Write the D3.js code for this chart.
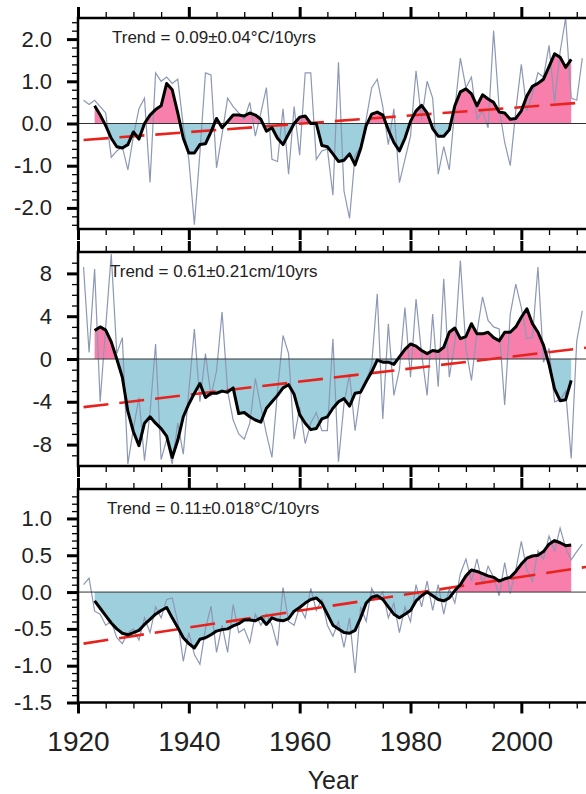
<!DOCTYPE html>
<html><head><meta charset="utf-8">
<script src="https://cdn.jsdelivr.net/npm/d3@7"></script>
<style>html,body{margin:0;padding:0;background:#fff;overflow:hidden}</style>
</head><body><svg id="c" width="586" height="794"></svg>
<script>
// ---------------- DATA ----------------
const annualStart = 1921;   // first year of the thin annual series
const smoothStart = 1923;   // first year of the smoothed series

// Panel 1: temperature anomaly (°C)
const tempAnnual = [
 0.55,0.45,0.55,0.40,0.25,-0.80,-0.65,-0.55,-1.10,-0.30,
 0.35,0.60,-1.40,1.20,1.00,1.10,0.95,1.05,-0.05,-0.85,
 -2.40,-0.70,1.20,1.15,-1.05,-0.25,0.60,0.40,0.25,0.10,
 0.50,-0.30,0.25,0.85,-0.85,-0.90,0.35,-1.20,0.40,-0.75,
 1.20,1.20,-0.85,-0.65,-0.60,-1.70,1.45,-1.60,-2.25,-0.75,
 -0.55,0.10,0.85,1.05,0.40,-0.50,0.35,-1.40,-0.85,-0.30,
 1.25,0.10,1.00,0.60,-1.20,-0.55,-1.10,0.35,1.55,0.85,
 1.10,0.10,0.30,-0.10,2.20,0.35,-0.45,-1.00,0.30,1.40,
 0.30,0.70,1.20,1.10,1.85,0.50,1.70,2.50,0.60,0.55,
 1.55];
const tempSmooth = [
 0.42,0.20,-0.05,-0.35,-0.55,-0.58,-0.50,-0.20,
 -0.37,0.00,0.20,0.33,0.42,0.95,0.80,0.25,-0.35,-0.70,
 -0.70,-0.50,-0.48,-0.20,0.12,-0.10,0.05,0.20,0.20,0.18,
 0.25,0.20,0.10,-0.18,-0.10,-0.35,-0.50,-0.25,0.00,0.15,
 0.18,0.00,0.00,-0.52,-0.55,-0.72,-0.90,-0.87,-0.72,-0.98,
 -0.60,-0.05,0.22,0.27,0.20,-0.15,-0.45,-0.65,-0.35,0.05,
 0.30,0.43,0.25,-0.12,-0.30,-0.30,-0.15,0.42,0.75,0.82,
 0.70,0.42,0.68,0.58,0.50,0.27,0.25,0.10,0.12,0.30,
 0.65,0.88,0.95,1.05,1.35,1.65,1.57,1.33,1.52];
const tempTrend = [[1921, -0.39], [2012.5, 0.51]];

// Panel 2: sea level anomaly (cm)
const seaAnnual = [
 8.6,0.6,8.4,-4.0,3.0,9.8,0.5,2.0,-9.8,-6.5,
 -3.6,-9.5,-5.0,1.4,-9.4,-7.5,-9.8,-6.0,-8.9,-3.0,
 2.8,-4.0,0.5,-3.5,-1.1,4.4,-3.0,-5.7,-7.0,-7.5,
 -6.0,-1.8,-4.5,-7.0,-9.2,-3.0,2.2,0.5,-7.5,-4.5,
 -7.9,-6.0,-5.0,-6.7,-6.7,1.9,-9.6,-4.2,-1.4,-6.7,
 -3.0,-2.0,-0.5,6.1,-5.6,3.3,-3.4,-1.0,4.8,-1.7,
 5.6,0.5,-3.4,4.2,-2.6,7.5,-1.7,1.5,9.2,1.0,
 -2.0,2.5,5.8,3.6,3.0,2.8,-4.3,4.2,7.0,4.8,
 1.9,2.0,8.6,-0.3,1.0,-4.0,-3.8,-3.0,-9.3,1.7,
 4.5];
const seaSmooth = [
 2.66,3.0,2.7,1.6,0.0,-1.7,-4.9,-6.8,
 -8.1,-6.0,-5.4,-6.0,-6.5,-7.2,-9.2,-7.6,-5.4,-4.2,
 -3.2,-2.3,-3.6,-3.2,-3.2,-3.0,-3.1,-2.7,-5.1,-5.0,
 -5.4,-5.7,-5.9,-4.6,-4.0,-3.4,-2.7,-2.4,-3.3,-5.2,
 -6.0,-6.6,-6.5,-5.6,-5.4,-4.6,-4.0,-3.7,-4.4,-3.2,
 -3.1,-2.1,-1.2,-0.1,-0.3,-0.3,-0.5,0.2,0.9,1.4,
 1.2,0.8,0.5,0.8,0.7,1.1,2.5,2.9,1.9,2.1,
 3.3,2.35,2.35,2.5,2.0,1.7,2.5,2.5,3.0,3.9,
 4.7,3.3,2.5,1.3,-0.5,-2.8,-3.9,-3.8,-2.0];
const seaTrend = [[1921, -4.5], [2012.5, 1.1]];

// Panel 3: SST anomaly (°C)
const sstAnnual = [
 0.10,0.19,-0.26,-0.30,-0.45,-0.40,-0.62,-0.70,-0.55,-0.50,
 -0.65,-0.35,-0.55,-0.20,-0.35,-0.10,-0.08,-0.40,-0.94,-0.55,
 -0.85,-0.98,-0.50,-0.19,-0.82,-0.45,-0.82,-0.17,-0.55,-0.50,
 -0.69,-0.30,-0.45,-0.30,-0.45,-0.73,0.06,-0.40,-0.45,-0.20,
 -0.35,0.05,-0.25,-0.10,-0.45,-0.60,-0.40,-0.75,-0.35,-1.10,
 -0.20,-0.40,0.05,-0.10,0.00,-0.35,-0.15,-0.55,-0.20,-0.40,
 0.10,-0.20,0.15,-0.25,0.10,-0.30,0.05,-0.15,0.25,0.45,
 0.15,0.45,0.10,0.35,0.20,-0.05,0.40,-0.02,0.30,0.69,
 0.30,0.15,0.56,0.45,0.76,0.56,0.87,0.60,0.44,0.55,
 0.65];
const sstSmooth = [
 -0.12,-0.22,-0.32,-0.42,-0.50,-0.56,-0.58,-0.55,
 -0.52,-0.44,-0.37,-0.30,-0.25,-0.21,-0.35,-0.48,-0.62,-0.70,
 -0.76,-0.64,-0.62,-0.58,-0.53,-0.51,-0.50,-0.46,-0.43,-0.38,
 -0.38,-0.39,-0.35,-0.44,-0.35,-0.38,-0.39,-0.36,-0.26,-0.21,
 -0.15,-0.10,-0.08,-0.15,-0.30,-0.45,-0.50,-0.55,-0.56,-0.52,
 -0.35,-0.15,-0.07,-0.05,-0.10,-0.20,-0.30,-0.35,-0.30,-0.25,
 -0.12,-0.05,0.00,-0.05,-0.10,-0.12,-0.08,0.02,0.10,0.22,
 0.30,0.28,0.25,0.22,0.20,0.15,0.18,0.20,0.28,0.38,
 0.46,0.49,0.50,0.55,0.65,0.70,0.67,0.63,0.64];
const sstTrend = [[1921, -0.70], [2012.5, 0.35]];

// Tick values / labels
const xMajorTicks = [1920, 1940, 1960, 1980, 2000];
const xMinorTicks = [1925,1930,1935,1945,1950,1955,1965,1970,1975,1985,1990,1995,2005,2010];
const y1Major = [-2, -1, 0, 1, 2];
const y1Minor = [-2.4,-2.2,-1.8,-1.6,-1.4,-1.2,-0.8,-0.6,-0.4,-0.2,0.2,0.4,0.6,0.8,1.2,1.4,1.6,1.8,2.2,2.4];
const y2Major = [-8, -4, 0, 4, 8];
const y2Minor = [-9,-7,-6,-5,-3,-2,-1,1,2,3,5,6,7,9];
const y3Major = [-1.5, -1.0, -0.5, 0, 0.5, 1.0];
const y3Minor = [-1.4,-1.3,-1.2,-1.1,-0.9,-0.8,-0.7,-0.6,-0.4,-0.3,-0.2,-0.1,0.1,0.2,0.3,0.4,0.6,0.7,0.8,0.9,1.1,1.2,1.3];
const trendLabels = ["Trend = 0.09\u00B10.04\u00B0C/10yrs", "Trend = 0.61\u00B10.21cm/10yrs", "Trend = 0.11\u00B10.018\u00B0C/10yrs"];
const xTitle = "Year";

// ---------------- DRAW ----------------
const FONT = "'Liberation Sans', Arial, Helvetica, sans-serif";
const PINK = "#f87fab", BLUE = "#9dcfdd", THIN = "#8c98b6", RED = "#e8231e";
const svg = d3.select('#c');
const defs = svg.append('defs');
const X0 = 78, X1 = 590.6;
const x = d3.scaleLinear().domain([1920, 2012.5]).range([X0, X1]);

const panels = [
 {top:18, bottom:229, domain:[-2.5,2.5], major:y1Major, minor:y1Minor, fmt:d=>d.toFixed(1), annual:tempAnnual, smooth:tempSmooth, trend:tempTrend, label:trendLabels[0], lx:112},
 {top:252, bottom:466, domain:[-10,10], major:y2Major, minor:y2Minor, fmt:d=>String(d), annual:seaAnnual, smooth:seaSmooth, trend:seaTrend, label:trendLabels[1], lx:110},
 {top:489, bottom:702.5, domain:[-1.5,1.4], major:y3Major, minor:y3Minor, fmt:d=>d.toFixed(1), annual:sstAnnual, smooth:sstSmooth, trend:sstTrend, label:trendLabels[2], lx:107}
];

function styleAxis(g, w){
  g.select('.domain').remove();
  g.selectAll('.tick line').attr('stroke','#000').attr('stroke-width', w);
}

panels.forEach((p, i) => {
  const y = d3.scaleLinear().domain(p.domain).range([p.bottom, p.top]);
  const y0 = y(0);
  const W = X1 - X0;
  defs.append('clipPath').attr('id','clip'+i).append('rect')
    .attr('x',X0).attr('y',p.top).attr('width',W).attr('height',p.bottom-p.top);
  defs.append('clipPath').attr('id','pos'+i).append('rect')
    .attr('x',X0).attr('y',p.top).attr('width',W).attr('height',y0-p.top);
  defs.append('clipPath').attr('id','neg'+i).append('rect')
    .attr('x',X0).attr('y',y0).attr('width',W).attr('height',p.bottom-y0);

  const g = svg.append('g');
  const sm = p.smooth.map((v,k)=>[smoothStart+k, v]);
  const an = p.annual.map((v,k)=>[annualStart+k, v]);
  const area = d3.area().x(d=>x(d[0])).y0(y0).y1(d=>y(d[1]));
  const line = d3.line().x(d=>x(d[0])).y(d=>y(d[1]));

  g.append('path').attr('d', area(sm)).attr('fill', PINK).attr('clip-path','url(#pos'+i+')');
  g.append('path').attr('d', area(sm)).attr('fill', BLUE).attr('clip-path','url(#neg'+i+')');

  g.append('path').attr('d', line(an)).attr('fill','none').attr('stroke',THIN)
    .attr('stroke-width',1.2).attr('clip-path','url(#clip'+i+')');

  g.append('line').attr('x1',X0).attr('x2',X1).attr('y1',y0).attr('y2',y0)
    .attr('stroke','#333').attr('stroke-width',1);

  g.append('path').attr('d', line(p.trend)).attr('fill','none').attr('stroke',RED)
    .attr('stroke-width',2.6).attr('stroke-dasharray','25,11').attr('clip-path','url(#clip'+i+')');

  g.append('path').attr('d', line(sm)).attr('fill','none').attr('stroke','#000')
    .attr('stroke-width',3).attr('stroke-linejoin','round').attr('clip-path','url(#clip'+i+')');

  // frame
  g.append('rect').attr('x',X0).attr('y',p.top).attr('width',W).attr('height',p.bottom-p.top)
    .attr('fill','none').attr('stroke','#000').attr('stroke-width',2.5);

  // left axis
  const la = g.append('g').attr('transform',`translate(${X0},0)`)
    .call(d3.axisLeft(y).tickValues(p.major).tickSize(11).tickPadding(15).tickFormat(p.fmt));
  styleAxis(la, 3);
  la.selectAll('text').attr('font-family',FONT).attr('font-size',22).attr('fill','#222');
  const lm = g.append('g').attr('transform',`translate(${X0},0)`)
    .call(d3.axisLeft(y).tickValues(p.minor).tickSize(6).tickFormat(''));
  styleAxis(lm, 1.3);
  // right axis (inward)
  const ra = g.append('g').attr('transform',`translate(${X1},0)`)
    .call(d3.axisLeft(y).tickValues(p.major).tickSize(-8).tickFormat(''));
  styleAxis(ra, 1.5);
  const rm = g.append('g').attr('transform',`translate(${X1},0)`)
    .call(d3.axisLeft(y).tickValues(p.minor).tickSize(-4).tickFormat(''));
  styleAxis(rm, 1);

  // top axis
  const ta = g.append('g').attr('transform',`translate(0,${p.top})`)
    .call(d3.axisTop(x).tickValues(xMajorTicks).tickSize(11).tickFormat(''));
  styleAxis(ta, 3);
  const tm = g.append('g').attr('transform',`translate(0,${p.top})`)
    .call(d3.axisTop(x).tickValues(xMinorTicks).tickSize(6).tickFormat(''));
  styleAxis(tm, 1.3);
  // bottom axis
  const isLast = i === panels.length - 1;
  const ba = g.append('g').attr('transform',`translate(0,${p.bottom})`)
    .call(d3.axisBottom(x).tickValues(xMajorTicks).tickSize(11).tickPadding(18)
      .tickFormat(isLast ? d3.format('d') : ''));
  styleAxis(ba, 3);
  ba.selectAll('text').attr('font-family',FONT).attr('font-size',28).attr('fill','#222');
  const bm = g.append('g').attr('transform',`translate(0,${p.bottom})`)
    .call(d3.axisBottom(x).tickValues(xMinorTicks).tickSize(6).tickFormat(''));
  styleAxis(bm, 1.3);

  // trend label
  g.append('text').attr('x',p.lx).attr('y',p.top+25).text(p.label)
    .attr('font-family',FONT).attr('font-size',17).attr('fill','#222');
});

svg.append('text').attr('x',333).attr('y',789).attr('text-anchor','middle').text(xTitle)
  .attr('font-family',FONT).attr('font-size',25).attr('fill','#222');
</script></body></html>
